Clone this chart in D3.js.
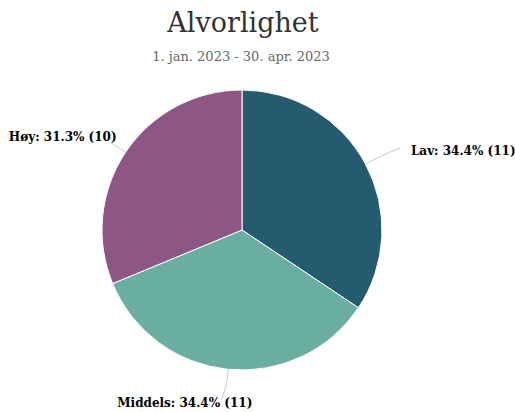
<!DOCTYPE html>
<html><head><meta charset="utf-8">
<script src="https://cdn.jsdelivr.net/npm/d3@7"></script>
<style>body{margin:0;background:#fff}svg{display:block}</style>
</head><body>
<svg id="chart" width="515" height="412"></svg>
<script>
const title = "Alvorlighet";
const subtitle = "1. jan. 2023 - 30. apr. 2023";
const categories = ["Lav", "Middels", "Høy"];
const values = [11, 11, 10];
const colors = ["#255b6e", "#6aaea2", "#8d5684"];

const svg = d3.select("#chart");
const W = 515, H = 412;
const cx = 242, cy = 230, r = 140;

svg.append("text").attr("x", 243).attr("y", 32).attr("text-anchor", "middle")
  .attr("font-family", "DejaVu Serif").attr("font-size", 27).attr("fill", "#333").text(title);
svg.append("text").attr("x", 241).attr("y", 61).attr("text-anchor", "middle")
  .attr("font-family", "DejaVu Serif").attr("font-size", 13).attr("fill", "#666").text(subtitle);

const total = d3.sum(values);
const data = categories.map((c, i) => ({cat: c, v: values[i], color: colors[i]}));
const pie = d3.pie().value(d => d.v).sort(null);
const arcs = pie(data);
const arc = d3.arc().innerRadius(0).outerRadius(r);
const g = svg.append("g").attr("transform", `translate(${cx},${cy})`);
g.selectAll("path.slice").data(arcs).join("path").attr("class", "slice")
  .attr("d", arc).attr("fill", d => d.data.color)
  .attr("stroke", "#fff").attr("stroke-width", 1).attr("stroke-linejoin", "round");

const pt = (a, rad) => [rad * Math.sin(a), -rad * Math.cos(a)];
const fmt = d => `${d.data.cat}: ${(d.data.v / total * 100).toFixed(1)}% (${d.data.v})`;

arcs.forEach(d => {
  const a = (d.startAngle + d.endAngle) / 2;
  const p0 = pt(a, r);
  const e = pt(a, r + 30);
  const right = Math.sin(a) > 0.3;
  const bottom = Math.abs(Math.sin(a)) <= 0.3;
  let end, lx, ly, anchor;
  if (right) {
    end = [e[0] + 8, e[1] - 2];
    lx = end[0] + 11; ly = e[1] + 5; anchor = "start";
  } else if (bottom) {
    end = [e[0] - 4, e[1] + 1];
    lx = end[0] + 31; ly = e[1] + 8; anchor = "end";
  } else {
    end = [e[0] + 10, e[1] + 7];
    lx = end[0] + 6; ly = e[1] + 5; anchor = "end";
  }
  const c = pt(a, r + 20);
  g.append("path").attr("d", `M${p0[0]},${p0[1]}Q${c[0]},${c[1]} ${end[0]},${end[1]}`)
    .attr("fill", "none").attr("stroke", "#c8c8c8").attr("stroke-width", 1);
  g.append("text").attr("x", lx).attr("y", ly).attr("text-anchor", anchor)
    .attr("font-family", "DejaVu Serif").attr("font-weight", "bold").attr("font-size", 12)
    .attr("fill", "#000").text(fmt(d));
});
</script>
</body></html>
